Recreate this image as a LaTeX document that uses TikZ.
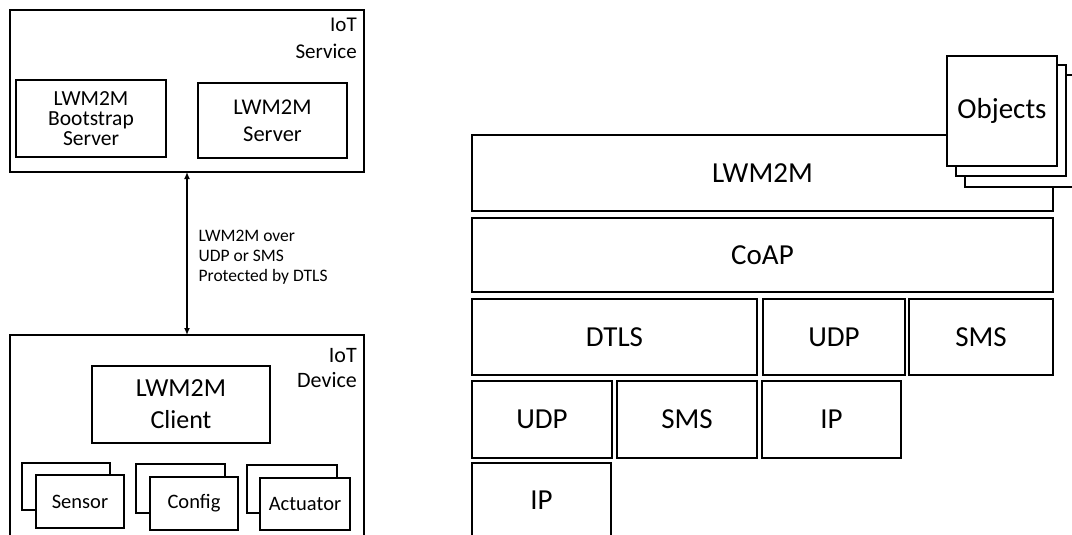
\documentclass[tikz,border=0pt]{standalone}
\usepackage{fontspec}
\setmainfont{Carlito}
\usetikzlibrary{arrows.meta}
\begin{document}
\begin{tikzpicture}[x=1pt,y=-1pt,
  box/.style={draw, line width=2pt, fill=white, inner sep=0pt, outer sep=0pt,
              anchor=north west, align=center},
  layer/.style={box, font=\fontsize{29}{32}\selectfont},
  small/.style={box, font=\fontsize{20.5}{23}\selectfont},
  tag/.style={inner sep=0pt, anchor=north east, align=right}]
\clip (0,0) rectangle (1072,535);
\fill[white] (0,0) rectangle (1072,535);

% ---------- IoT Service ----------
\node[box, minimum width=354pt, minimum height=162pt] (svc) at (10,10) {};
\node[tag, font=\fontsize{21}{27}\selectfont] (svctag) at (357,18) {IoT\\Service};
\node[box, minimum width=150pt, minimum height=77pt, font=\fontsize{21.5}{20}\selectfont]
  (boot) at (16,80) {LWM2M\\Bootstrap\\Server};
\node[box, minimum width=149pt, minimum height=75pt, font=\fontsize{22.5}{27}\selectfont]
  (srv) at (198,83) {LWM2M\\Server};

% ---------- IoT Device ----------
\node[box, minimum width=354pt, minimum height=215pt] (dev) at (10,335) {};
\node[tag, font=\fontsize{22}{25}\selectfont] (devtag) at (357,348) {IoT\\Device};
\node[box, minimum width=178pt, minimum height=77pt, font=\fontsize{26}{32}\selectfont]
  (client) at (92,366) {LWM2M\\Client};

\node[small, minimum width=88pt, minimum height=47pt] (sensorb) at (22,463) {};
\node[small, minimum width=88pt, minimum height=53pt] (sensor) at (36,475) {Sensor};
\node[small, minimum width=89pt, minimum height=49pt] (configb) at (136,464) {};
\node[small, minimum width=88pt, minimum height=53pt] (config) at (150,477) {Config};
\node[small, minimum width=90pt, minimum height=48pt] (actb) at (247,465) {};
\node[small, minimum width=90pt, minimum height=52pt] (act) at (260,478) {Actuator};

% ---------- link between service and device ----------
\draw[line width=1.3pt, {Latex[length=7pt,width=6pt]}-{Latex[length=7pt,width=6pt]}]
  (svc.south) -- (dev.north)
  node[pos=0.5, anchor=west, xshift=11pt, yshift=-4pt, inner sep=0pt, align=left,
       font=\fontsize{17.5}{20}\selectfont] (linklbl)
  {LWM2M over\\UDP or SMS\\Protected by DTLS};

% ---------- protocol stack ----------
\node[layer, minimum width=581pt, minimum height=76pt] (lwm) at (472,135) {LWM2M};
\node[layer, minimum width=581pt, minimum height=74pt] (coap) at (472,218) {CoAP};
\node[layer, minimum width=285pt, minimum height=76pt] (dtls) at (472,299) {DTLS};
\node[layer, minimum width=142pt, minimum height=76pt] (udpa) at (763,299) {UDP};
\node[layer, minimum width=144pt, minimum height=76pt] (smsa) at (909,299) {SMS};
\node[layer, minimum width=140pt, minimum height=77pt] (udpb) at (472,381) {UDP};
\node[layer, minimum width=140pt, minimum height=77pt] (smsb) at (617,381) {SMS};
\node[layer, minimum width=139pt, minimum height=77pt] (ipa) at (762,381) {IP};
\node[layer, minimum width=139pt, minimum height=75pt] (ipb) at (472,463) {IP};

% ---------- object stack ----------
\node[layer, minimum width=110pt, minimum height=112pt] (objc) at (965,75) {};
\node[layer, minimum width=110pt, minimum height=111pt] (objb) at (956,65) {};
\node[layer, minimum width=110pt, minimum height=110pt] (obj) at (947,56) {Objects};
\end{tikzpicture}
\end{document}
